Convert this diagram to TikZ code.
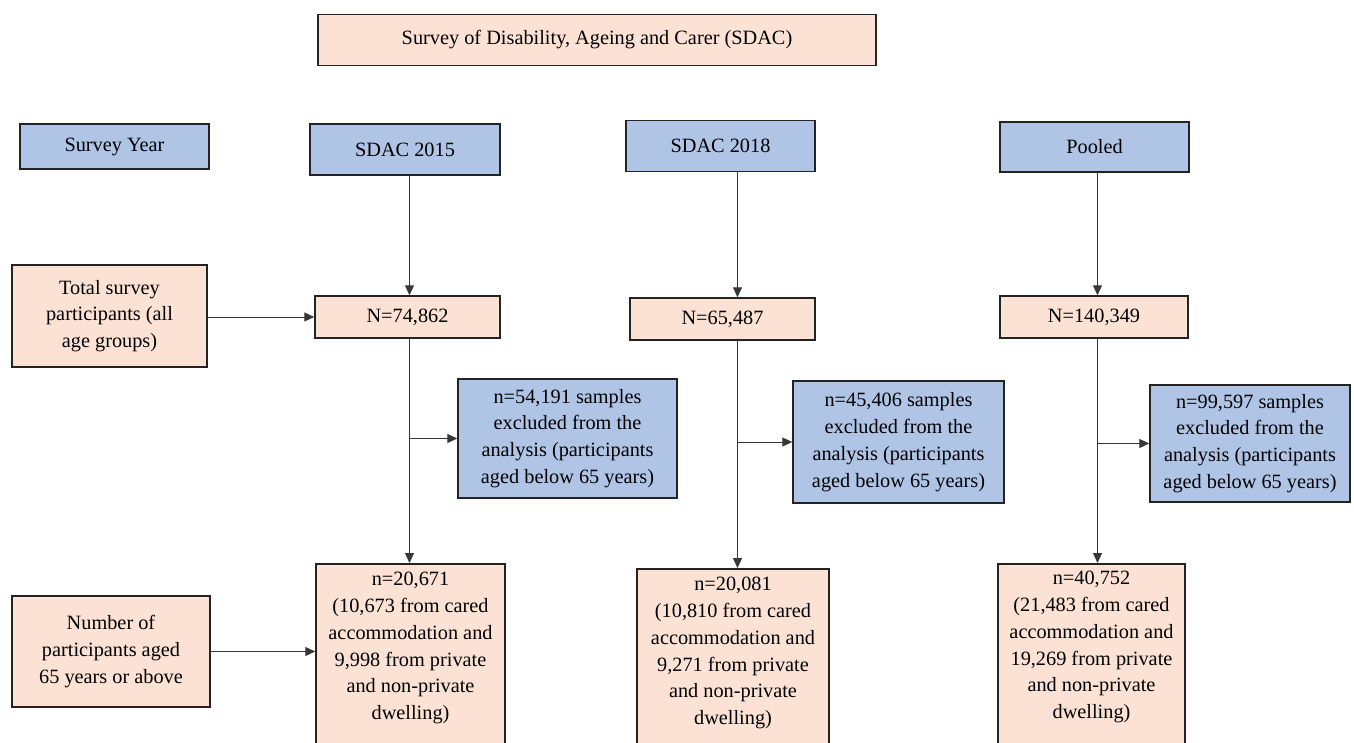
\documentclass[tikz,border=0pt]{standalone}
\usepackage{fontspec}
\setmainfont{Liberation Serif}
\usetikzlibrary{arrows.meta,calc}
\definecolor{pinkfill}{RGB}{252,226,212}
\definecolor{bluefill}{RGB}{176,196,230}
\definecolor{edge}{RGB}{35,35,35}
\definecolor{arr}{RGB}{55,55,55}
\tikzset{
  box/.style={draw=edge, line width=1.5pt, align=center, inner sep=0pt, font=\fontsize{20.3}{26.8}\selectfont},
  pbox/.style={box, fill=pinkfill},
  bbox/.style={box, fill=bluefill},
  txt/.style={align=center, inner sep=0pt, font=\fontsize{20.3}{26.8}\selectfont},
  conn/.style={draw=arr, line width=1pt, -{Triangle[length=10pt,width=9pt]}},
  seg/.style={draw=arr, line width=1pt}
}
\begin{document}
\begin{tikzpicture}[x=1pt,y=-1pt]
\clip (0,0) rectangle (1354,742);
\fill[white] (0,0) rectangle (1354,742);
% top
\node[pbox, minimum width=558pt, minimum height=51pt] (title) at (597,40) {Survey of Disability, Ageing and Carer (SDAC)};
% survey year row
\node[bbox, minimum width=189pt, minimum height=45pt] (sy) at (114.5,146.5) {Survey Year};
\node[bbox, minimum width=190pt, minimum height=51pt] (y15) at (405,149.5) {SDAC 2015};
\node[bbox, minimum width=189pt, minimum height=51pt] (y18) at (720.5,146) {SDAC 2018};
\node[bbox, minimum width=189pt, minimum height=50pt] (yp) at (1094.5,147) {Pooled};
% N row
\node[pbox, minimum width=195pt, minimum height=102pt] (tot) at (109.5,316) {Total survey\\participants (all\\age groups)};
\node[pbox, minimum width=185pt, minimum height=42pt] (n1) at (407.5,317) {N=74,862};
\node[pbox, minimum width=185pt, minimum height=42pt] (n2) at (722.5,319) {N=65,487};
\node[pbox, minimum width=188pt, minimum height=42pt] (n3) at (1094,317) {N=140,349};
% excluded
\node[bbox, minimum width=219pt, minimum height=119pt] (e1) at (567.5,438.5) {n=54,191 samples\\excluded from the\\analysis (participants\\aged below 65 years)};
\node[bbox, minimum width=211pt, minimum height=122pt] (e2) at (898.5,442) {n=45,406 samples\\excluded from the\\analysis (participants\\aged below 65 years)};
\node[bbox, minimum width=200pt, minimum height=117pt] (e3) at (1250,443.5) {n=99,597 samples\\excluded from the\\analysis (participants\\aged below 65 years)};
% bottom
\node[pbox, minimum width=198pt, minimum height=111pt] (num) at (111,651.5) {Number of\\participants aged\\65 years or above};
\node[pbox, anchor=north, minimum width=189pt, minimum height=200pt] (b1) at (410.5,563) {};
\node[pbox, anchor=north, minimum width=192pt, minimum height=200pt] (b2) at (733,568) {};
\node[pbox, anchor=north, minimum width=187pt, minimum height=200pt] (b3) at (1091.5,563) {};
\node[txt, anchor=north] (b1t) at ($(b1.north)+(0,9)$) {n=20,671\\(10,673 from cared\\accommodation and\\9,998 from private\\and non-private\\dwelling)};
\node[txt, anchor=north] (b2t) at ($(b2.north)+(0,9)$) {n=20,081\\(10,810 from cared\\accommodation and\\9,271 from private\\and non-private\\dwelling)};
\node[txt, anchor=north] (b3t) at ($(b3.north)+(0,8)$) {n=40,752\\(21,483 from cared\\accommodation and\\19,269 from private\\and non-private\\dwelling)};
% column lines
\coordinate (c1) at (409.5,0);
\coordinate (c2) at (737.5,0);
\coordinate (c3) at (1097.5,0);
\draw[conn] (y15.south -| c1) -- (n1.north -| c1);
\draw[conn] (y18.south -| c2) -- (n2.north -| c2);
\draw[conn] (yp.south -| c3) -- (n3.north -| c3);
\draw[conn] (tot.east |- n1) -- (n1.west);
\draw[conn] (num.east) -- (b1.west |- num.east);
\draw[conn] (n1.south -| c1) -- (b1.north -| c1);
\draw[conn] (n2.south -| c2) -- (b2.north -| c2);
\draw[conn] (n3.south -| c3) -- (b3.north -| c3);
\draw[conn] (e1.west -| c1) -- (e1.west);
\draw[conn] (e2.west -| c2) -- (e2.west);
\draw[conn] (e3.west -| c3) -- (e3.west);
\end{tikzpicture}
\end{document}
